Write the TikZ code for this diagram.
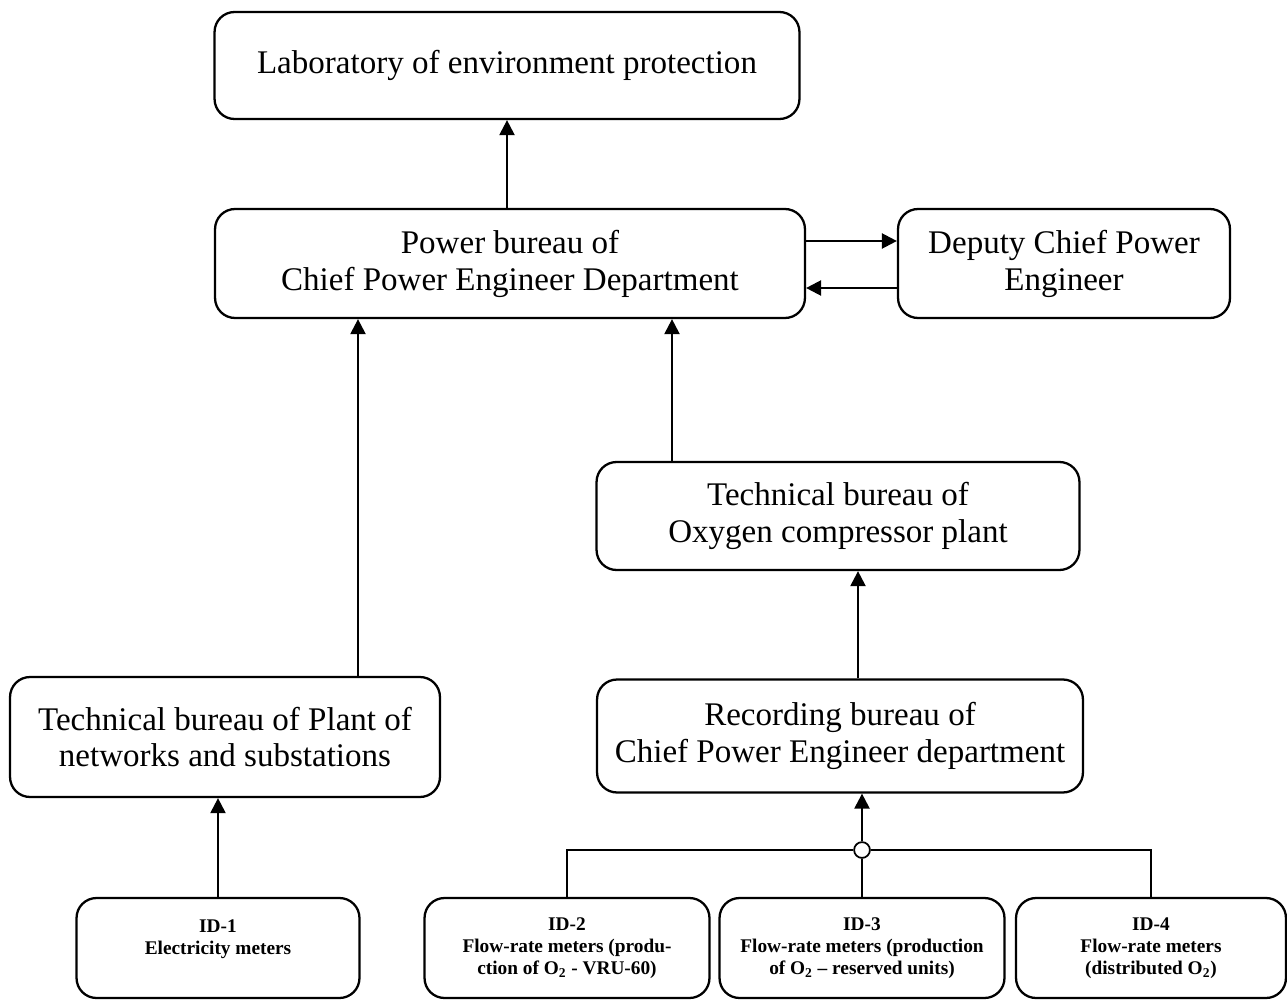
\documentclass[tikz,border=0pt]{standalone}
\usepackage{fontspec}
\setmainfont{Liberation Serif}
\usetikzlibrary{arrows.meta,positioning}

\tikzset{
    box/.style={rectangle, rounded corners=0.4cm, draw, line width=1.3pt, align=center,
                font=\fontsize{18.8}{21}\selectfont},
    idbox/.style={box, minimum height=2cm, font=\fontsize{11}{12.5}\selectfont\bfseries},
    arr/.style={-{Triangle[length=8.5pt,width=8.5pt]}, line width=1.3pt},
    link/.style={line width=1.3pt}
}

\begin{document}
\begin{tikzpicture}[x=0.02cm, y=-0.02cm]
    \useasboundingbox (0,0) rectangle (1287,1000);

    % upper part
    \node (lab) [box, minimum width=11.7cm, minimum height=2.14cm] at (507,65.5) {Laboratory of environment protection};
    \node (pwr) [box, minimum width=11.8cm, minimum height=2.18cm] at (510,263.5) {Power bureau of\\Chief Power Engineer Department};
    \node (dep) [box, minimum width=6.64cm, minimum height=2.18cm] at (1064,263.5) {Deputy Chief Power\\Engineer};

    % oxygen branch
    \node (oxy) [box, minimum width=9.66cm, minimum height=2.16cm] at (838,516) {Technical bureau of\\Oxygen compressor plant};
    \node (rec) [box, minimum width=9.72cm, minimum height=2.26cm] at (840,736) {Recording bureau of\\Chief Power Engineer department};

    % networks branch
    \node (tbp) [box, minimum width=8.6cm, minimum height=2.4cm] at (225,737) {Technical bureau of Plant of\\networks and substations};

    % meters
    \node (id1) [idbox, minimum width=5.66cm] at (218,948) {ID-1\\Electricity meters\\\mbox{}};
    \node (id2) [idbox, minimum width=5.7cm] at (567,948) {ID-2\\Flow-rate meters (produ-\\ction of O\textsubscript{2} - VRU-60)};
    \node (id3) [idbox, minimum width=5.7cm] at (862,948) {ID-3\\Flow-rate meters (production\\of O\textsubscript{2} -- reserved units)};
    \node (id4) [idbox, minimum width=5.4cm] at (1151,948) {ID-4\\Flow-rate meters\\(distributed O\textsubscript{2})};
    \node (jn) [circle, draw, line width=1pt, fill=white, inner sep=0pt, minimum size=9pt] at (862,850) {};

    \coordinate (tapA) at (358,0);
    \coordinate (tapB) at (672,0);
    \coordinate (tapC) at (0,241);
    \coordinate (tapD) at (0,288);
    \coordinate (tapE) at (858,0);

    \draw [arr] (pwr.north -| lab.south) -- (lab.south);
    \draw [arr] (pwr.east |- tapC) -- (dep.west |- tapC);
    \draw [arr] (dep.west |- tapD) -- (pwr.east |- tapD);
    \draw [arr] (tapA |- tbp.north) -- (tapA |- pwr.south);
    \draw [arr] (tapB |- oxy.north) -- (tapB |- pwr.south);
    \draw [arr] (tapE |- rec.north) -- (tapE |- oxy.south);
    \draw [arr] (id1.north) -- (id1.north |- tbp.south);

    \draw [link] (id2.north) |- (jn.west);
    \draw [link] (id4.north) |- (jn.east);
    \draw [link] (id3.north) -- (jn.south);
    \draw [arr] (jn.north) -- (jn.north |- rec.south);
\end{tikzpicture}
\end{document}
